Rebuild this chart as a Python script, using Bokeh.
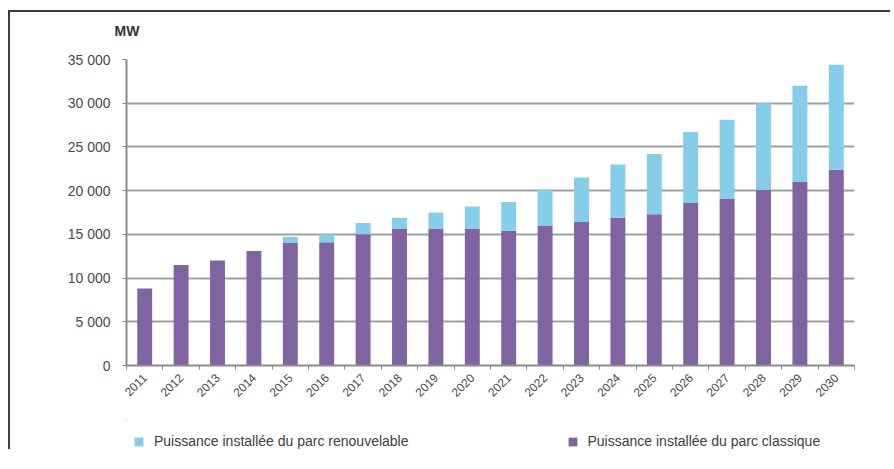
from bokeh.plotting import figure
from bokeh.layouts import column
from bokeh.models import ColumnDataSource, FixedTicker, Legend, LegendItem, Title
from bokeh.embed import file_html
from bokeh.resources import INLINE
import math

years = ["2011", "2012", "2013", "2014", "2015", "2016", "2017", "2018", "2019", "2020",
         "2021", "2022", "2023", "2024", "2025", "2026", "2027", "2028", "2029", "2030"]
classique = [8800, 11500, 12000, 13100, 14000, 14100, 15000, 15600, 15600, 15600,
             15400, 16000, 16400, 16900, 17300, 18600, 19100, 20100, 21000, 22400]
renouvelable = [0, 0, 0, 0, 700, 900, 1300, 1300, 1900, 2600,
                3300, 4100, 5100, 6100, 6900, 8100, 9000, 9900, 11000, 12000]
y_ticks = [0, 5000, 10000, 15000, 20000, 25000, 30000, 35000]
y_labels = ["0", "5 000", "10 000", "15 000", "20 000", "25 000", "30 000", "35 000"]
label_classique = "Puissance installée du parc classique"
label_renouv = "Puissance installée du parc renouvelable"
unit_label = "MW"

PURPLE = "#8064A2"
BLUE = "#86CDEA"
FONT = "Liberation Sans"

idx = list(range(len(years)))
src = ColumnDataSource(dict(x=idx, classique=classique, renouvelable=renouvelable))

chart = figure(frame_width=728, frame_height=306, output_backend="svg", toolbar_location=None,
               x_range=(-0.5, len(years) - 0.5), y_range=(0, 35000),
               min_border_left=116, min_border_right=36, min_border_top=47,
               min_border_bottom=54)
chart.outline_line_color = None
chart.background_fill_color = "white"

rs = chart.vbar_stack(["classique", "renouvelable"], x="x", width=0.41, source=src,
                      color=[PURPLE, BLUE], line_color=None)

chart.xgrid.grid_line_color = None
chart.ygrid.grid_line_color = "#a0a0a0"
chart.ygrid.grid_line_width = 2
chart.ygrid.ticker = FixedTicker(ticks=y_ticks)

chart.yaxis.ticker = FixedTicker(ticks=y_ticks)
chart.yaxis.major_label_overrides = {t: l for t, l in zip(y_ticks, y_labels)}
chart.yaxis.axis_line_color = "#8a8a8a"
chart.yaxis.axis_line_width = 2
chart.yaxis.major_tick_line_color = "#8a8a8a"
chart.yaxis.major_tick_out = 4
chart.yaxis.major_tick_in = 0
chart.yaxis.minor_tick_line_color = None
chart.yaxis.major_label_text_font = FONT
chart.yaxis.major_label_text_font_size = "14px"
chart.yaxis.major_label_text_color = "#4a4a4a"
chart.yaxis.major_label_standoff = 12

chart.xaxis.ticker = FixedTicker(ticks=idx, minor_ticks=[i - 0.5 for i in range(len(years) + 1)])
chart.xaxis.major_label_overrides = {i: y for i, y in zip(idx, years)}
chart.xaxis.major_label_orientation = math.pi / 4
chart.xaxis.axis_line_color = "#8a8a8a"
chart.xaxis.axis_line_width = 2
chart.xaxis.major_tick_line_color = None
chart.xaxis.minor_tick_line_color = "#8a8a8a"
chart.xaxis.minor_tick_out = 4
chart.xaxis.minor_tick_in = 0
chart.xaxis.major_label_text_font = FONT
chart.xaxis.major_label_text_font_size = "12px"
chart.xaxis.major_label_text_color = "#4a4a4a"
chart.xaxis.major_label_standoff = 4

chart.add_layout(Title(text=unit_label + "\n ", align="left", offset=-12, standoff=10,
                       text_font=FONT, text_font_size="14px", text_font_style="bold",
                       text_color="#333333"), "above")

# legend strip below the chart (its renderers use the same data, kept outside the view)
leg = figure(width=880, height=30, output_backend="svg", toolbar_location=None,
             x_range=(1000, 1001), y_range=(-2, -1), x_axis_type=None, y_axis_type=None,
             min_border=0)
leg.outline_line_color = None
leg.xgrid.grid_line_color = None
leg.ygrid.grid_line_color = None
r_class = leg.vbar(x="x", top="classique", source=src, width=0.41, color=PURPLE, line_color=None)
r_renouv = leg.vbar(x="x", top="renouvelable", source=src, width=0.41, color=BLUE, line_color=None)

legend = Legend(items=[LegendItem(label=label_renouv, renderers=[r_renouv]),
                       LegendItem(label=label_classique, renderers=[r_class])],
                orientation="horizontal", location=(7, 0),
                label_text_font=FONT, label_text_font_size="14px",
                label_text_color="#404040", glyph_width=11, glyph_height=11,
                label_standoff=10, spacing=158, padding=6, margin=0,
                border_line_color=None, background_fill_alpha=0)
leg.add_layout(legend, "center")

p = column(chart, leg, spacing=0)
p.styles = {"border-top": "2px solid #3c3c3c", "border-left": "2px solid #3c3c3c",
            "margin-left": "8px", "margin-top": "10px"}

open("out.html", "w").write(file_html(p, INLINE))
